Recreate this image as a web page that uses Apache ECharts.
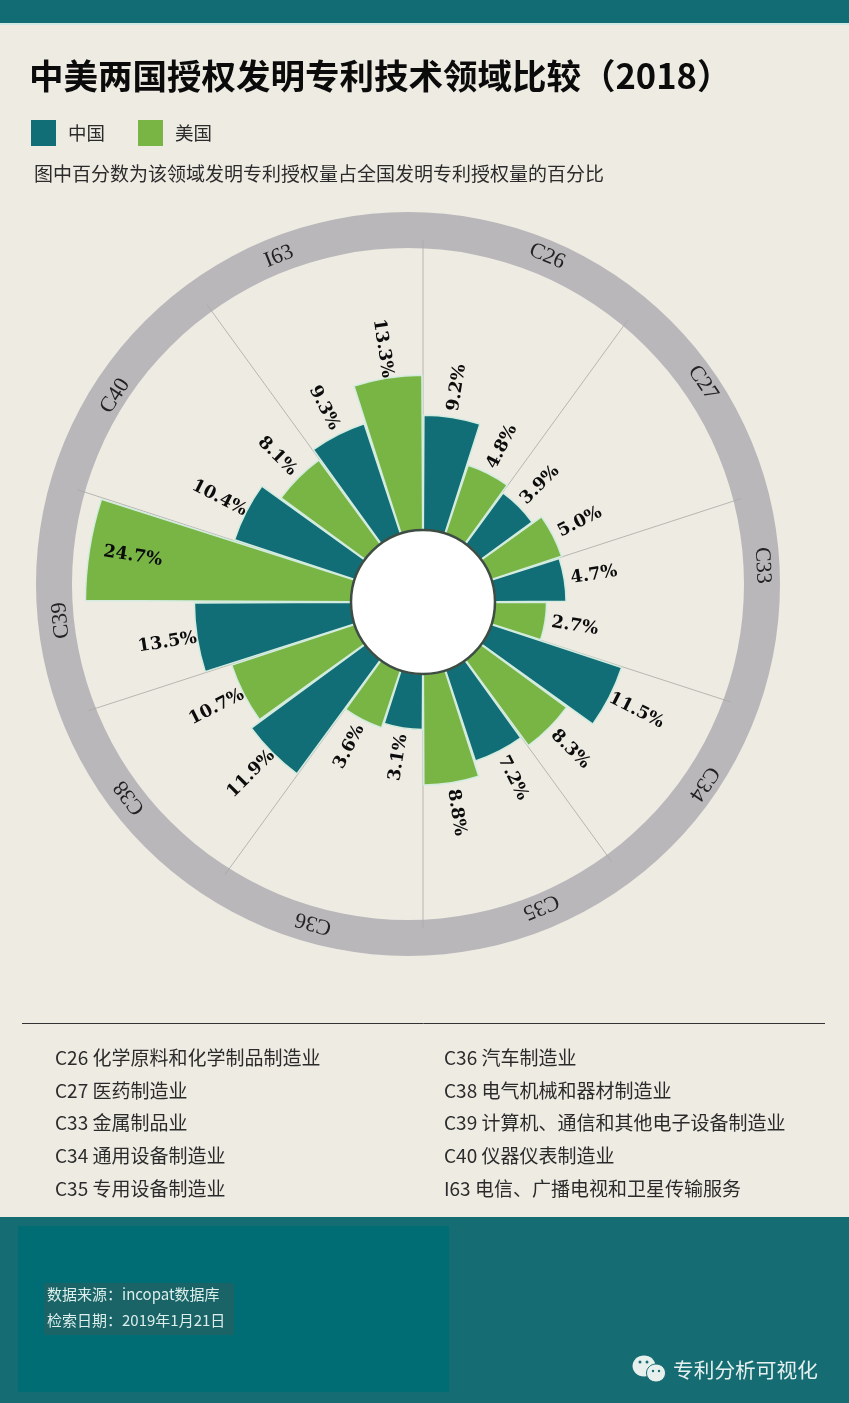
<!DOCTYPE html>
<html>
<head>
<meta charset="utf-8">
<script src="https://cdn.jsdelivr.net/npm/echarts@6/dist/echarts.min.js"></script>
<style>html,body{margin:0;padding:0;background:#eeebe3}#c{width:849px;height:1403px}</style>
</head>
<body>
<div id="c"></div>
<script>
const fields = ['C26','C27','C33','C34','C35','C36','C38','C39','C40','I63'];
const china = [9.2,3.9,4.7,11.5,7.2,3.1,11.9,13.5,10.4,9.3];
const usa = [4.8,5.0,2.7,8.3,8.8,3.6,10.7,24.7,8.1,13.3];
const legendLeft = ['C26 化学原料和化学制品制造业','C27 医药制造业','C33 金属制品业','C34 通用设备制造业','C35 专用设备制造业'];
const legendRight = ['C36 汽车制造业','C38 电气机械和器材制造业','C39 计算机、通信和其他电子设备制造业','C40 仪器仪表制造业','I63 电信、广播电视和卫星传输服务'];

const TEAL='#126e76', GREEN='#78b545', CJK='"Noto Sans CJK SC"';
const C=[423,602], RING=[408,584], innerR=72;
const ringTextAngles=[23,55.7,87,124,157.6,195.6,232.5,264,302.7,338.5];
const ringTextRadii=[356,357,355,357,349,352,351,349,348,352];
const bands=[]; fields.forEach(f=>{bands.push(f+' 中国');bands.push(f+' 美国');});

function rosePart(params, api, color){
  const v=api.value(0), idx=api.value(1);
  const p=api.coord([v,idx]), band=api.size([0,1])[1]*0.97, a=p[3];
  const cs=params.coordSys;
  const inside=v>20;
  const lp=api.coord([inside? v-4.5 : v+3.1, idx]);
  let th=(Math.PI/2-a)%(2*Math.PI); if(th<0) th+=2*Math.PI;
  const rot=th<Math.PI? th-Math.PI/2 : th-1.5*Math.PI;
  return {type:'group',children:[
    {type:'sector',shape:{cx:cs.cx,cy:cs.cy,r0:innerR,r:p[2],startAngle:-a-band/2,endAngle:-a+band/2,clockwise:true},
     style:{fill:color,stroke:'#d3ecdf',lineWidth:1.5}},
    {type:'text',x:lp[0],y:lp[1],rotation:-rot,
     style:{text:v.toFixed(1)+'%',fill:'#0c0c0c',font:'bold 17.5px "DejaVu Serif"',align:'center',verticalAlign:'middle'}}
  ]};
}
function spoke(params, api){
  const idx=api.value(0);
  const p=api.coord([0,idx]), band=api.size([0,1])[1], a=p[3]+band/2;
  const cs=params.coordSys;
  const dx=Math.cos(a), dy=-Math.sin(a);
  const ox=cs.cx-RING[0], oy=cs.cy-RING[1], R=344;
  const b=ox*dx+oy*dy, t=-b+Math.sqrt(b*b-(ox*ox+oy*oy-R*R));
  return {type:'line',shape:{x1:cs.cx,y1:cs.cy,x2:cs.cx+dx*t,y2:cs.cy+dy*t},style:{stroke:'#a9a8a4',lineWidth:0.8}};
}
const txt=(t,x,y,font,fill)=>({type:'text',x,y,z:20,style:{text:t,font,fill:fill||'#2b2b2b',verticalAlign:'middle'}});
const graphics=[
  {type:'rect',z:-5,shape:{x:0,y:0,width:849,height:23},style:{fill:'#126c73'}},
  {type:'rect',z:-5,shape:{x:0,y:23,width:849,height:2},style:{fill:'#cfe8e4'}},
  {type:'rect',z:-5,shape:{x:0,y:1217,width:849,height:186},style:{fill:'#156c73'}},
  {type:'rect',z:-4,shape:{x:18,y:1226,width:431,height:166},style:{fill:'#006d75'}},
  {type:'rect',z:-3,shape:{x:44,y:1283,width:190,height:52},style:{fill:'#1a6468'}},
  {type:'circle',z:30,shape:{cx:C[0],cy:C[1],r:innerR},style:{fill:'#fff',stroke:'#3e4d44',lineWidth:2.5}},
  {type:'line',z:5,shape:{x1:22,y1:1023.5,x2:825,y2:1023.5},style:{stroke:'#333',lineWidth:1}},
  txt('图中百分数为该领域发明专利授权量占全国发明专利授权量的百分比',34,174,'19px '+CJK,'#2b2b2b'),
  txt('数据来源：incopat数据库',47,1294,'15px '+CJK,'#dbeeea'),
  txt('检索日期：2019年1月21日',47,1320,'15px '+CJK,'#dbeeea'),
  txt('专利分析可视化',673,1370,'20.7px '+CJK,'#e6f0ee'),
  {type:'ellipse',z:20,shape:{cx:644,cy:1366,rx:11.5,ry:10.5},style:{fill:'#e8f0ee'}},
  {type:'ellipse',z:21,shape:{cx:656,cy:1373,rx:9.5,ry:9},style:{fill:'#e8f0ee',stroke:'#156c73',lineWidth:1}},
  {type:'circle',z:22,shape:{cx:640,cy:1362,r:1.5},style:{fill:'#156c73'}},
  {type:'circle',z:22,shape:{cx:647,cy:1362,r:1.5},style:{fill:'#156c73'}},
  {type:'circle',z:22,shape:{cx:653,cy:1371,r:1.2},style:{fill:'#156c73'}},
  {type:'circle',z:22,shape:{cx:659,cy:1371,r:1.2},style:{fill:'#156c73'}}
];
fields.forEach((f,i)=>{
  const th=ringTextAngles[i]*Math.PI/180, rr=ringTextRadii[i];
  graphics.push({type:'text',z:6,x:RING[0]+rr*Math.sin(th),y:RING[1]-rr*Math.cos(th),rotation:-th,
    style:{text:f,font:'22px "Liberation Serif"',fill:'#222',align:'center',verticalAlign:'middle'}});
});
const rowY=[1058,1091,1123,1156,1189];
legendLeft.forEach((t,i)=>graphics.push(txt(t,55,rowY[i],'19px '+CJK)));
legendRight.forEach((t,i)=>graphics.push(txt(t,444,rowY[i],'19px '+CJK)));

const chart=echarts.init(document.getElementById('c'),null,{renderer:'canvas'});
chart.setOption({
  animation:false,
  backgroundColor:'#eeebe3',
  title:{text:'中美两国授权发明专利技术领域比较（2018）',left:24,top:50,
    textStyle:{fontFamily:CJK,fontSize:34.5,fontWeight:'bold',color:'#0b0b0b',lineHeight:42}},
  legend:{left:26,top:115,icon:'rect',itemWidth:25,itemHeight:26,itemGap:33,data:['中国','美国'],
    textStyle:{fontFamily:CJK,fontSize:18.5,color:'#2b2b2b',padding:[3,0,0,7]},selectedMode:false},
  polar:{center:C,radius:[0,340.5]},
  radiusAxis:{type:'value',min:-10,max:25,show:false},
  angleAxis:{type:'category',data:bands,startAngle:90,show:false},
  graphic:{elements:graphics},
  series:[
    {type:'pie',z:1,silent:true,center:RING,radius:[336,372],
     itemStyle:{color:'#b9b7ba'},labelLine:{show:false},label:{show:false},
     data:[{name:'ring',value:1}]},
    {type:'custom',name:'spokes',z:2,silent:true,coordinateSystem:'polar',renderItem:spoke,
     encode:{angle:0},data:fields.map((f,i)=>[2*i])},
    {type:'custom',name:'中国',z:3,coordinateSystem:'polar',itemStyle:{color:TEAL},
     encode:{radius:0,angle:1},renderItem:(p,a)=>rosePart(p,a,TEAL),data:china.map((v,i)=>[v,2*i])},
    {type:'custom',name:'美国',z:3,coordinateSystem:'polar',itemStyle:{color:GREEN},
     encode:{radius:0,angle:1},renderItem:(p,a)=>rosePart(p,a,GREEN),data:usa.map((v,i)=>[v,2*i+1])}
  ]
});
</script>
</body>
</html>
